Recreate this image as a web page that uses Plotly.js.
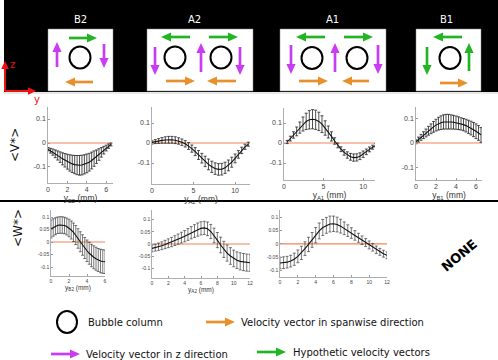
<!DOCTYPE html>
<html>
<head>
<meta charset="utf-8">
<script src="https://cdn.plot.ly/plotly-3.0.1.min.js"></script>
<style>
body{margin:0;padding:0;background:#fff;}
#chart{width:498px;height:360px;}
</style>
</head>
<body>
<div id="chart"></div>
<script>
// regions shown in the sketch
const regions = ['B2', 'A2', 'A1', 'B1'];

// <V*> row
const vB2X = [0,0.25,0.5,0.75,1,1.25,1.5,1.75,2,2.25,2.5,2.75,3,3.25,3.5,3.75,4,4.25,4.5,4.75,5,5.25,5.5,5.75,6,6.25,6.5];
const vB2Mean = [-0.026,-0.032,-0.038,-0.045,-0.052,-0.059,-0.066,-0.072,-0.078,-0.083,-0.087,-0.090,-0.092,-0.093,-0.092,-0.089,-0.085,-0.080,-0.073,-0.065,-0.057,-0.048,-0.039,-0.030,-0.021,-0.013,-0.006];
const vB2Err = [0.007,0.010,0.013,0.016,0.019,0.022,0.025,0.028,0.031,0.034,0.036,0.038,0.040,0.041,0.041,0.040,0.039,0.037,0.035,0.032,0.028,0.024,0.020,0.016,0.012,0.009,0.006];

const vA2X = [0,0.4,0.8,1.2,1.6,2,2.4,2.8,3.2,3.6,4,4.4,4.8,5.2,5.6,6,6.4,6.8,7.2,7.6,8,8.4,8.8,9.2,9.6,10,10.4,10.8,11.2,11.6];
const vA2Mean = [0.003,0.007,0.010,0.013,0.015,0.016,0.016,0.014,0.010,0.004,-0.004,-0.015,-0.028,-0.043,-0.060,-0.076,-0.092,-0.107,-0.119,-0.128,-0.132,-0.131,-0.124,-0.112,-0.096,-0.077,-0.057,-0.037,-0.019,-0.006];
const vA2Err = [0.008,0.010,0.012,0.014,0.016,0.017,0.017,0.017,0.016,0.016,0.016,0.017,0.018,0.020,0.022,0.024,0.026,0.027,0.028,0.029,0.029,0.029,0.028,0.027,0.025,0.022,0.019,0.016,0.013,0.010];

const vA1X = [0.4,0.8,1.2,1.6,2,2.4,2.8,3.2,3.6,4,4.4,4.8,5.2,5.6,6,6.4,6.8,7.2,7.6,8,8.4,8.8,9.2,9.6,10,10.4,10.8,11.2,11.6];
const vA1Mean = [0.005,0.022,0.040,0.058,0.077,0.095,0.108,0.116,0.119,0.116,0.108,0.094,0.075,0.055,0.033,0.010,-0.012,-0.031,-0.047,-0.060,-0.069,-0.073,-0.072,-0.066,-0.056,-0.044,-0.032,-0.021,-0.012];
const vA1Err = [0.008,0.012,0.016,0.022,0.028,0.035,0.041,0.046,0.048,0.048,0.046,0.042,0.036,0.030,0.023,0.016,0.012,0.012,0.014,0.016,0.017,0.018,0.018,0.017,0.016,0.014,0.012,0.010,0.008];

const vB1X = [0,0.25,0.5,0.75,1,1.25,1.5,1.75,2,2.25,2.5,2.75,3,3.25,3.5,3.75,4,4.25,4.5,4.75,5,5.25,5.5,5.75,6,6.25,6.5];
const vB1Mean = [0.005,0.014,0.023,0.032,0.041,0.050,0.058,0.066,0.073,0.079,0.083,0.086,0.087,0.087,0.086,0.085,0.083,0.081,0.078,0.075,0.071,0.066,0.061,0.055,0.048,0.041,0.033];
const vB1Err = [0.008,0.010,0.012,0.014,0.016,0.018,0.020,0.022,0.024,0.026,0.028,0.029,0.030,0.030,0.029,0.028,0.027,0.026,0.025,0.025,0.026,0.027,0.028,0.029,0.030,0.030,0.030];

// <W*> row (no data for B1)
const wB2X = [0,0.25,0.5,0.75,1,1.25,1.5,1.75,2,2.25,2.5,2.75,3,3.25,3.5,3.75,4,4.25,4.5,4.75,5,5.25,5.5,5.75,6];
const wB2Mean = [0.052,0.058,0.063,0.067,0.068,0.068,0.066,0.062,0.056,0.048,0.039,0.028,0.014,0.001,-0.012,-0.024,-0.035,-0.045,-0.054,-0.061,-0.067,-0.072,-0.076,-0.078,-0.079];
const wB2Err = [0.036,0.035,0.034,0.033,0.033,0.033,0.033,0.034,0.035,0.036,0.037,0.038,0.039,0.040,0.041,0.042,0.043,0.044,0.045,0.046,0.046,0.046,0.047,0.047,0.047];

const wA2X = [0,0.4,0.8,1.2,1.6,2,2.4,2.8,3.2,3.6,4,4.4,4.8,5.2,5.6,6,6.4,6.8,7.2,7.6,8,8.4,8.8,9.2,9.6,10,10.4,10.8,11.2,11.6,12];
const wA2Mean = [-0.018,-0.015,-0.011,-0.007,-0.002,0.003,0.008,0.014,0.020,0.026,0.032,0.039,0.046,0.053,0.059,0.064,0.066,0.062,0.051,0.035,0.016,-0.004,-0.022,-0.037,-0.049,-0.059,-0.066,-0.071,-0.074,-0.076,-0.077];
const wA2Err = [0.014,0.014,0.015,0.016,0.017,0.018,0.019,0.020,0.021,0.022,0.023,0.024,0.025,0.026,0.027,0.027,0.027,0.028,0.029,0.030,0.031,0.032,0.033,0.033,0.034,0.034,0.034,0.035,0.035,0.035,0.035];

const wA1X = [0,0.4,0.8,1.2,1.6,2,2.4,2.8,3.2,3.6,4,4.4,4.8,5.2,5.6,6,6.4,6.8,7.2,7.6,8,8.4,8.8,9.2,9.6,10,10.4,10.8,11.2,11.6,12];
const wA1Mean = [-0.072,-0.071,-0.069,-0.065,-0.058,-0.047,-0.034,-0.018,-0.002,0.015,0.033,0.049,0.062,0.070,0.075,0.076,0.073,0.067,0.059,0.050,0.041,0.032,0.023,0.014,0.005,-0.004,-0.013,-0.022,-0.030,-0.037,-0.043];
const wA1Err = [0.022,0.022,0.022,0.022,0.023,0.024,0.025,0.026,0.027,0.028,0.029,0.030,0.030,0.030,0.030,0.029,0.028,0.026,0.024,0.022,0.020,0.018,0.017,0.016,0.015,0.015,0.014,0.014,0.013,0.013,0.013];

// extent of the zero reference line in each panel
const zeroV = [[0,6.5],[0,11.8],[0,11.6],[0,6.6]];
const zeroW = [[0,6],[0,12],[0,12]];

const vTicks = [-0.1, 0, 0.1];
const vTickText = ['-0.1', '0', '0.1'];
const wTicks = [-0.1, -0.05, 0, 0.05, 0.1];
const wTickText = ['-0.1', '-0.05', '0', '0.05', '0.1'];

const legendText = ['Bubble column', 'Velocity vector in spanwise direction', 'Velocity vector in z direction', 'Hypothetic velocity vectors'];

const W = 498, H = 360;
const GREEN = '#22b422', PURPLE = '#c83cf2', ORANGE = '#e8912c', RED = '#ee1111';

function px(x){ return x / W; }
function py(y){ return 1 - y / H; }

function panelTraces(n, xs, mean, err, zx, thick){
    let xa = 'x' + (n == 1 ? '' : n), ya = 'y' + (n == 1 ? '' : n);
    return [
        {x: zx, y: [0, 0], xaxis: xa, yaxis: ya, mode: 'lines', line: {color: '#f0835a', width: 1.2}, hoverinfo: 'skip'},
        {x: xs, y: mean, xaxis: xa, yaxis: ya, mode: 'lines', line: {color: '#111', width: 1.1},
         error_y: {type: 'data', array: err, visible: true, color: '#222', thickness: thick, width: 1.5}}
    ];
}

// box = [left, top, right, bottom] in pixels
function setAxes(layout, n, box, xr, yr, xt, yt, ytt, title, fs){
    let s = n == 1 ? '' : String(n);
    let common = {showline: true, linecolor: '#9a9a9a', linewidth: 0.8, ticks: 'inside', ticklen: 2,
        tickcolor: '#9a9a9a', showgrid: false, zeroline: false, fixedrange: true,
        tickfont: {family: 'Liberation Sans, Arial', size: fs, color: '#444'}};
    let xa = Object.assign({}, common, {
        domain: [px(box[0]), px(box[2])], range: xr, anchor: 'y' + s, tickvals: xt
    });
    if(title){
        xa.title = {text: title, font: {family: 'Liberation Sans, Arial', size: fs + 1.5, color: '#333'}, standoff: 0};
    }
    layout['xaxis' + s] = xa;
    layout['yaxis' + s] = Object.assign({}, common, {
        domain: [py(box[3]), py(box[1])], range: yr, anchor: 'x' + s, tickvals: yt, ticktext: ytt
    });
}

// arrow drawn as a shaft line plus a filled head, all in paper units
function arrowShapes(x1, y1, x2, y2, color, w, hl, hw){
    w = w || 2.7; hl = hl || 10; hw = hw || 4.6;
    let dx = x2 - x1, dy = y2 - y1;
    let len = Math.sqrt(dx * dx + dy * dy);
    let ux = dx / len, uy = dy / len;
    let bx = x2 - ux * hl, by = y2 - uy * hl;
    let nx = -uy * hw, ny = ux * hw;
    let head = 'M ' + px(x2) + ' ' + py(y2) +
        ' L ' + px(bx + nx) + ' ' + py(by + ny) +
        ' L ' + px(bx - nx) + ' ' + py(by - ny) + ' Z';
    return [
        {type: 'line', xref: 'paper', yref: 'paper', x0: px(x1), y0: py(y1),
         x1: px(bx + ux * 1.5), y1: py(by + uy * 1.5), line: {color: color, width: w}},
        {type: 'path', xref: 'paper', yref: 'paper', path: head, fillcolor: color, line: {width: 0}}
    ];
}

function ring(cx, cy, rx, ry){
    return {type: 'circle', xref: 'paper', yref: 'paper', x0: px(cx - rx), x1: px(cx + rx),
        y0: py(cy + ry), y1: py(cy - ry), line: {color: '#000', width: 2}};
}

function label(x, y, text, opts){
    return Object.assign({x: px(x), y: py(y), xref: 'paper', yref: 'paper', text: text, showarrow: false,
        xanchor: 'center', yanchor: 'middle',
        font: {family: 'DejaVu Sans', size: 10, color: '#111'}}, opts || {});
}

let data = [];
data = data.concat(panelTraces(1, vB2X, vB2Mean, vB2Err, zeroV[0], 0.8));
data = data.concat(panelTraces(2, vA2X, vA2Mean, vA2Err, zeroV[1], 0.8));
data = data.concat(panelTraces(3, vA1X, vA1Mean, vA1Err, zeroV[2], 0.8));
data = data.concat(panelTraces(4, vB1X, vB1Mean, vB1Err, zeroV[3], 0.8));
data = data.concat(panelTraces(5, wB2X, wB2Mean, wB2Err, zeroW[0], 0.6));
data = data.concat(panelTraces(6, wA2X, wA2Mean, wA2Err, zeroW[1], 0.6));
data = data.concat(panelTraces(7, wA1X, wA1Mean, wA1Err, zeroW[2], 0.6));

let layout = {
    width: W, height: H, margin: {l: 0, r: 0, t: 0, b: 0},
    paper_bgcolor: '#fff', plot_bgcolor: 'rgba(0,0,0,0)', showlegend: false,
    font: {family: 'DejaVu Sans'}
};

setAxes(layout, 1, [48, 107, 113, 183], [0, 6.7], [-0.1667, 0.15], [0, 2, 4, 6], vTicks, vTickText, 'y<sub>B2</sub> (mm)', 7);
setAxes(layout, 2, [152, 107, 250, 184], [0, 11.8], [-0.205, 0.18], [0, 5, 10], vTicks, vTickText, 'y<sub>A2</sub> (mm)', 7);
setAxes(layout, 3, [284, 108, 375, 180], [0, 11.5], [-0.185, 0.175], [0, 5, 10], vTicks, vTickText, 'y<sub>A1</sub> (mm)', 7);
setAxes(layout, 4, [416, 107, 482, 180], [0, 6.6], [-0.151, 0.147], [0, 2, 4, 6], vTicks, vTickText, 'y<sub>B1</sub> (mm)', 7);
setAxes(layout, 5, [51, 210, 105, 276], [0, 6], [-0.136, 0.128], [0, 2, 4, 6], wTicks, wTickText, 'y<sub>B2</sub> (mm)', 5);
setAxes(layout, 6, [152, 210, 250, 278], [0, 12], [-0.139, 0.139], [0, 2, 4, 6, 8, 10, 12], wTicks, wTickText, 'y<sub>A2</sub> (mm)', 5);
setAxes(layout, 7, [280, 210, 387, 277], [0, 12], [-0.125, 0.128], [0, 2, 4, 6, 8, 10, 12], wTicks, wTickText, '', 5);

let shapes = [
    {type: 'rect', xref: 'paper', yref: 'paper', x0: px(4), x1: 1, y0: py(92), y1: 1, fillcolor: '#000', line: {width: 0}, layer: 'below'},
    {type: 'line', xref: 'paper', yref: 'paper', x0: px(4), x1: 1, y0: py(93), y1: py(93), line: {color: '#d0d0d0', width: 1}},
    {type: 'line', xref: 'paper', yref: 'paper', x0: 0, x1: 1, y0: py(201), y1: py(201), line: {color: '#000', width: 2}}
];
let boxes = [[48, 113], [147, 253], [280, 386], [416, 481]];
boxes.forEach(function(b){
    shapes.push({type: 'rect', xref: 'paper', yref: 'paper', x0: px(b[0]), x1: px(b[1]), y0: py(91), y1: py(29),
        fillcolor: '#fff', line: {color: '#888', width: 0.5}});
});
shapes.push(ring(80, 57.5, 10.5, 11));
shapes.push(ring(175, 57.5, 10.5, 11));
shapes.push(ring(221, 57.5, 10.5, 11));
shapes.push(ring(312, 58, 10.5, 11));
shapes.push(ring(357, 58, 10.5, 11));
shapes.push(ring(450, 58, 10.5, 11));
shapes.push(ring(67, 322, 10, 11));

let arrows = [
    // B2
    [69, 38, 97, 38, GREEN], [57, 67, 57, 42, PURPLE], [104, 44, 104, 68, PURPLE], [93, 82, 65, 82, ORANGE],
    // A2
    [190, 37, 161, 37, GREEN], [209, 37, 238, 37, GREEN], [155, 47, 155, 75, PURPLE], [201, 72, 201, 43, PURPLE],
    [240, 47, 240, 75, PURPLE], [166, 81, 195, 81, ORANGE], [236, 81, 207, 81, ORANGE],
    // A1
    [325, 37, 296, 37, GREEN], [344, 37, 373, 37, GREEN], [291, 45, 291, 74, PURPLE], [335, 72, 335, 43, PURPLE],
    [378, 45, 378, 74, PURPLE], [299, 81, 328, 81, ORANGE], [369, 81, 342, 81, ORANGE],
    // B1
    [462, 37, 433, 37, GREEN], [427, 47, 427, 75, GREEN], [469, 71, 469, 43, GREEN], [440, 83, 468, 83, ORANGE],
    // legend
    [206, 322, 235, 322, ORANGE], [51, 354, 80, 354, PURPLE], [257, 352, 286, 352, GREEN]
];
arrows.forEach(function(a){
    shapes = shapes.concat(arrowShapes(a[0], a[1], a[2], a[3], a[4]));
});
// red frame axes
shapes = shapes.concat(arrowShapes(5, 91, 5, 61, RED, 2, 8, 3.8));
shapes = shapes.concat(arrowShapes(5, 91, 36, 91, RED, 2, 8, 3.8));
layout.shapes = shapes;

let ann = [];
let labelX = [80, 194, 332, 446];
regions.forEach(function(r, i){
    ann.push(label(labelX[i], 19, r, {font: {family: 'DejaVu Sans', size: 10, color: '#fff'}}));
});
ann.push(label(12, 64, 'z', {font: {family: 'DejaVu Sans', size: 10, color: RED}}));
ann.push(label(37, 99, 'y', {font: {family: 'DejaVu Sans', size: 10, color: RED}}));
// row labels
ann.push(label(15, 145, '&lt;V*&gt;', {textangle: -90, font: {family: 'DejaVu Sans', size: 12, color: '#111'}}));
ann.push(label(18, 228, '&lt;W*&gt;', {textangle: -90, font: {family: 'DejaVu Sans', size: 12, color: '#111'}}));
ann.push(label(459, 255, '<b>NONE</b>', {textangle: -40, font: {family: 'DejaVu Sans', size: 13, color: '#000'}}));
// legend
ann.push(label(86, 322, legendText[0], {xanchor: 'left'}));
ann.push(label(239, 322, legendText[1], {xanchor: 'left'}));
ann.push(label(84, 354, legendText[2], {xanchor: 'left'}));
ann.push(label(291, 352, legendText[3], {xanchor: 'left'}));
layout.annotations = ann;

Plotly.newPlot('chart', data, layout, {staticPlot: true, displayModeBar: false});
</script>
</body>
</html>
